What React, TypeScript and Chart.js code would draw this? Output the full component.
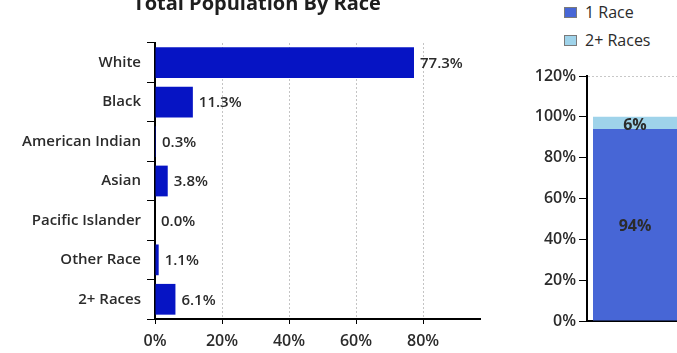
import React, { useEffect, useRef } from "react";
import { Chart, registerables } from "chart.js";

Chart.register(...registerables);

const chartTitle = "Total Population By Race";
const raceLabels = ["White", "Black", "American Indian", "Asian", "Pacific Islander", "Other Race", "2+ Races"];
const raceShares = [77.3, 11.3, 0.3, 3.8, 0.0, 1.1, 6.1];
const raceAxisTicks = [0, 20, 40, 60, 80];
const raceAxisMax = 97;

const stackCategories = ["Total"];
const oneRaceShares = [94];
const multiRaceShares = [6];
const stackAxisMax = 120;
const stackAxisStep = 20;

const FONT = "'Open Sans', 'DejaVu Sans', sans-serif";
const TEXT = "#2b2b2b";
const BAR_BLUE = "#0614c4";
const ONE_RACE = "#4766d6";
const MULTI_RACE = "#9fd3ea";
const LEFT_CANVAS_TOP = -6;

const centeredTitle = {
  id: "centeredTitle",
  afterDraw(chart: any) {
    const ctx = chart.ctx;
    ctx.save();
    ctx.font = `bold 20px ${FONT}`;
    ctx.fillStyle = "#1e1e1e";
    ctx.textAlign = "center";
    ctx.textBaseline = "alphabetic";
    ctx.fillText(chartTitle, chart.width / 2, 10 - LEFT_CANVAS_TOP);
    ctx.restore();
  },
};

const barValueLabels = {
  id: "barValueLabels",
  afterDatasetsDraw(chart: any) {
    const ctx = chart.ctx;
    const meta = chart.getDatasetMeta(0);
    ctx.save();
    ctx.font = `600 15px ${FONT}`;
    ctx.fillStyle = TEXT;
    ctx.textAlign = "left";
    ctx.textBaseline = "middle";
    meta.data.forEach((el: any, i: number) => {
      const v = chart.data.datasets[0].data[i] as number;
      ctx.fillText(v.toFixed(1) + "%", el.x + 6, el.y + 1);
    });
    ctx.restore();
  },
};

const stackValueLabels = {
  id: "stackValueLabels",
  afterDatasetsDraw(chart: any) {
    const ctx = chart.ctx;
    ctx.save();
    ctx.font = `bold 16px ${FONT}`;
    ctx.fillStyle = TEXT;
    ctx.textAlign = "center";
    ctx.textBaseline = "middle";
    chart.data.datasets.forEach((ds: any, di: number) => {
      const meta = chart.getDatasetMeta(di);
      meta.data.forEach((el: any, i: number) => {
        const v = ds.data[i] as number;
        ctx.fillText(Math.round(v) + "%", el.x, (el.y + el.base) / 2 + 2);
      });
    });
    ctx.restore();
  },
};

function RaceChart() {
  const ref = useRef<HTMLCanvasElement | null>(null);
  useEffect(() => {
    if (!ref.current) return;
    const chart = new Chart(ref.current, {
      type: "bar",
      data: {
        labels: raceLabels,
        datasets: [
          {
            data: raceShares,
            backgroundColor: BAR_BLUE,
            borderWidth: 0,
            barPercentage: 0.78,
            categoryPercentage: 1,
          },
        ],
      },
      options: {
        indexAxis: "y",
        responsive: false,
        animation: false,
        events: [],
        layout: { padding: { left: 0, right: 34, top: 43 - LEFT_CANVAS_TOP, bottom: 0 } },
        plugins: {
          legend: { display: false },
          tooltip: { enabled: false },
          title: { display: false },
        },
        scales: {
          x: {
            type: "linear",
            min: 0,
            max: raceAxisMax,
            afterBuildTicks: (s: any) => {
              s.ticks = raceAxisTicks.map((v) => ({ value: v }));
            },
            afterFit: (s: any) => {
              s.height = 34;
            },
            ticks: {
              callback: (v: any) => v + "%",
              color: TEXT,
              font: { family: FONT, size: 16, weight: 600 },
              padding: 8,
              maxRotation: 0,
            },
            grid: {
              color: (c: any) => (c.tick && c.tick.value === 0 ? "rgba(0,0,0,0)" : "#c4c4c4"),
              lineWidth: 1,
              drawTicks: true,
              tickLength: 5,
              tickColor: "#000",
            },
            border: { display: true, color: "#000", width: 2, dash: [2, 2] },
          },
          y: {
            afterFit: (s: any) => {
              s.width = 155;
            },
            ticks: { color: TEXT, font: { family: FONT, size: 15, weight: 600 }, padding: 6 },
            grid: { drawOnChartArea: false, drawTicks: true, tickLength: 8, tickColor: "#000" },
            border: { display: true, color: "#000", width: 2 },
          },
        },
      },
      plugins: [barValueLabels, centeredTitle],
    } as any);
    return () => chart.destroy();
  }, []);
  return (
    <canvas
      ref={ref}
      width={514}
      height={353 - LEFT_CANVAS_TOP}
      style={{ position: "absolute", left: 0, top: LEFT_CANVAS_TOP, width: 514, height: 353 - LEFT_CANVAS_TOP }}
    />
  );
}

function StackChart() {
  const ref = useRef<HTMLCanvasElement | null>(null);
  useEffect(() => {
    if (!ref.current) return;
    const chart = new Chart(ref.current, {
      type: "bar",
      data: {
        labels: stackCategories,
        datasets: [
          {
            label: "1 Race",
            data: oneRaceShares,
            backgroundColor: ONE_RACE,
            borderWidth: 0,
            barPercentage: 0.875,
            categoryPercentage: 1,
          },
          {
            label: "2+ Races",
            data: multiRaceShares,
            backgroundColor: MULTI_RACE,
            borderWidth: 0,
            barPercentage: 0.875,
            categoryPercentage: 1,
          },
        ],
      },
      options: {
        responsive: false,
        animation: false,
        events: [],
        layout: { padding: { left: 0, right: 0, top: 16, bottom: 0 } },
        plugins: {
          legend: { display: false },
          tooltip: { enabled: false },
        },
        scales: {
          x: {
            stacked: true,
            afterFit: (s: any) => {
              s.height = 32;
            },
            ticks: { display: false },
            grid: { display: false },
            border: { display: true, color: "#000", width: 2 },
          },
          y: {
            stacked: true,
            min: 0,
            max: stackAxisMax,
            afterFit: (s: any) => {
              s.width = 67;
            },
            ticks: {
              stepSize: stackAxisStep,
              callback: (v: any) => v + "%",
              color: TEXT,
              font: { family: FONT, size: 16, weight: 600 },
              padding: 3,
            },
            grid: {
              color: (c: any) => (c.tick && c.tick.value === stackAxisMax ? "#c8c8c8" : "rgba(0,0,0,0)"),
              drawTicks: true,
              tickLength: 8,
              tickColor: "#000",
            },
            border: { display: true, color: "#000", width: 2, dash: [2, 2] },
          },
        },
      },
      plugins: [stackValueLabels],
    } as any);
    return () => chart.destroy();
  }, []);
  return (
    <canvas
      ref={ref}
      width={163}
      height={293}
      style={{ position: "absolute", left: 520, top: 60, width: 163, height: 293 }}
    />
  );
}

function LegendItem({ color, label, top }: { color: string; label: string; top: number }) {
  return (
    <div style={{ position: "absolute", left: 564, top, display: "flex", alignItems: "center", height: 16 }}>
      <span
        style={{
          display: "inline-block",
          width: 11,
          height: 9,
          background: color,
          border: "1px solid #7a7a7a",
          marginRight: 8,
        }}
      />
      <span style={{ fontFamily: FONT, fontSize: 16, color: TEXT, lineHeight: "16px" }}>{label}</span>
    </div>
  );
}

export default function App() {
  return (
    <div
      style={{
        position: "fixed",
        left: 0,
        top: 0,
        width: 677,
        height: 353,
        overflow: "hidden",
        background: "#fff",
      }}
    >
      <RaceChart />
      <StackChart />
      <LegendItem color={ONE_RACE} label="1 Race" top={4} />
      <LegendItem color={MULTI_RACE} label="2+ Races" top={32} />
    </div>
  );
}
